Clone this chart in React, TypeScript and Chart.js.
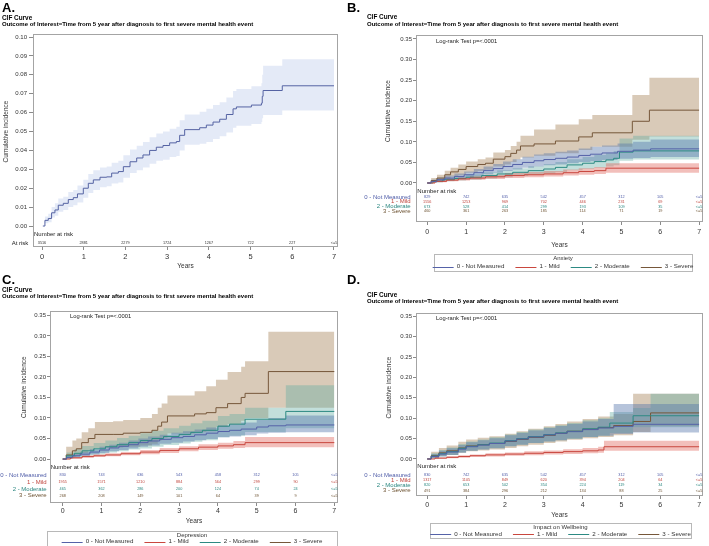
import { useEffect, useRef } from "react";
import { Chart, registerables } from "chart.js";

Chart.register(...registerables);

const FONT = "'Liberation Sans', Arial, sans-serif";

// ---------- axis ticks ----------
const YEAR_TICKS = [0, 1, 2, 3, 4, 5, 6, 7];
const A_Y_TICKS = [0, 0.01, 0.02, 0.03, 0.04, 0.05, 0.06, 0.07, 0.08, 0.09, 0.1];
const GROUP_Y_TICKS = [0, 0.05, 0.1, 0.15, 0.2, 0.25, 0.3, 0.35];

// ---------- labels ----------
const TITLE_1 = "CIF Curve";
const TITLE_2 = "Outcome of Interest=Time from 5 year after diagnosis to first severe mental health event";
const LOG_RANK = "Log-rank Test p=<.0001";
const GROUP_LABELS = ["0 - Not Measured", "1 - Mild", "2 - Moderate", "3 - Severe"];

// ---------- A: overall ----------
const A_TIME = [0.02, 0.07, 0.15, 0.23, 0.31, 0.39, 0.51, 0.63, 0.75, 0.85, 0.99, 1.11, 1.23, 1.39, 1.55, 1.67, 1.83, 1.95, 2.11, 2.27, 2.42, 2.58, 2.74, 2.9, 3.06, 3.22, 3.3, 3.42, 3.78, 3.94, 4.1, 4.26, 4.42, 4.58, 4.66, 5.02, 5.26, 5.28, 5.3, 5.76, 7.0];
const A_CIF = [0, 0.003, 0.004, 0.007, 0.0085, 0.011, 0.012, 0.014, 0.015, 0.017, 0.02, 0.0226, 0.0244, 0.0258, 0.026, 0.028, 0.0288, 0.0314, 0.034, 0.036, 0.0376, 0.04, 0.0417, 0.0426, 0.044, 0.0447, 0.048, 0.051, 0.052, 0.0534, 0.055, 0.0565, 0.059, 0.062, 0.063, 0.064, 0.065, 0.0686, 0.0717, 0.0742, 0.0742];
const A_LOWER = [0, 0.0015, 0.002, 0.0045, 0.0055, 0.0075, 0.0085, 0.01, 0.011, 0.0125, 0.015, 0.0175, 0.019, 0.0205, 0.021, 0.0225, 0.023, 0.0255, 0.028, 0.0295, 0.031, 0.033, 0.0345, 0.035, 0.0365, 0.037, 0.04, 0.043, 0.0435, 0.0445, 0.046, 0.0475, 0.0495, 0.052, 0.053, 0.054, 0.055, 0.057, 0.0588, 0.0611, 0.0611];
const A_UPPER = [0, 0.005, 0.0065, 0.01, 0.012, 0.0145, 0.0155, 0.018, 0.019, 0.0215, 0.0245, 0.0275, 0.0295, 0.031, 0.0315, 0.0335, 0.0345, 0.0375, 0.0405, 0.0425, 0.0445, 0.047, 0.049, 0.05, 0.0515, 0.0525, 0.056, 0.059, 0.0605, 0.062, 0.064, 0.0655, 0.068, 0.0715, 0.0725, 0.074, 0.0755, 0.08, 0.0848, 0.0883, 0.0883];
const A_AT_RISK = ["3516", "2881", "2279", "1724", "1267", "722", "227", "<=5"];

// ---------- B: anxiety ----------
const B_NM_T = [0, 0.1, 0.25, 0.45, 0.7, 0.95, 1.2, 1.45, 1.7, 1.95, 2.2, 2.45, 2.75, 3.0, 3.3, 3.6, 3.9, 4.2, 4.5, 4.9, 5.3, 5.75, 7.0];
const B_NM_CIF = [0, 0.004, 0.008, 0.012, 0.016, 0.02, 0.025, 0.03, 0.035, 0.04, 0.045, 0.05, 0.054, 0.057, 0.06, 0.063, 0.067, 0.07, 0.073, 0.077, 0.08, 0.083, 0.083];
const B_NM_LO = [0, 0.001, 0.004, 0.007, 0.01, 0.013, 0.017, 0.021, 0.025, 0.029, 0.033, 0.037, 0.04, 0.043, 0.045, 0.048, 0.051, 0.053, 0.056, 0.059, 0.061, 0.063, 0.063];
const B_NM_HI = [0, 0.008, 0.013, 0.018, 0.023, 0.028, 0.034, 0.04, 0.046, 0.052, 0.058, 0.064, 0.069, 0.072, 0.076, 0.079, 0.084, 0.088, 0.091, 0.096, 0.1, 0.106, 0.106];
const B_NM_RISK = ["829", "742", "635", "542", "457", "312", "105", "<=5"];

const B_MILD_T = [0, 0.2, 0.5, 0.8, 1.1, 1.5, 2.0, 2.5, 3.0, 3.5, 3.9, 4.3, 4.6, 7.0];
const B_MILD_CIF = [0, 0.004, 0.007, 0.01, 0.012, 0.015, 0.018, 0.02, 0.022, 0.025, 0.028, 0.03, 0.036, 0.036];
const B_MILD_LO = [0, 0.002, 0.004, 0.006, 0.008, 0.01, 0.012, 0.014, 0.016, 0.018, 0.02, 0.022, 0.025, 0.025];
const B_MILD_HI = [0, 0.007, 0.011, 0.014, 0.017, 0.02, 0.024, 0.027, 0.029, 0.033, 0.036, 0.039, 0.048, 0.048];
const B_MILD_RISK = ["1556", "1253", "969", "702", "446", "231", "69", "<=5"];

const B_MOD_T = [0, 0.15, 0.4, 0.7, 1.0, 1.4, 1.8, 2.2, 2.6, 3.0, 3.3, 3.6, 4.0, 4.3, 4.6, 4.8, 4.95, 5.3, 7.0];
const B_MOD_CIF = [0, 0.004, 0.008, 0.011, 0.014, 0.018, 0.022, 0.026, 0.03, 0.034, 0.038, 0.044, 0.048, 0.052, 0.056, 0.06, 0.075, 0.078, 0.078];
const B_MOD_LO = [0, 0.001, 0.004, 0.006, 0.008, 0.011, 0.014, 0.017, 0.02, 0.023, 0.026, 0.031, 0.034, 0.037, 0.04, 0.043, 0.054, 0.057, 0.057];
const B_MOD_HI = [0, 0.008, 0.013, 0.017, 0.021, 0.026, 0.031, 0.036, 0.041, 0.046, 0.051, 0.058, 0.063, 0.068, 0.072, 0.078, 0.108, 0.115, 0.115];
const B_MOD_RISK = ["673", "528", "414", "299", "193", "109", "35", "<=5"];

const B_SEV_T = [0, 0.1, 0.25, 0.45, 0.6, 0.8, 1.0, 1.3, 1.5, 1.7, 2.0, 2.15, 2.3, 2.4, 2.75, 3.3, 3.9, 4.25, 5.28, 5.72, 7.0];
const B_SEV_CIF = [0, 0.006, 0.012, 0.02, 0.027, 0.033, 0.04, 0.045, 0.048, 0.058, 0.064, 0.072, 0.08, 0.09, 0.095, 0.102, 0.112, 0.122, 0.15, 0.177, 0.177];
const B_SEV_LO = [0, 0.001, 0.005, 0.01, 0.015, 0.019, 0.025, 0.029, 0.032, 0.04, 0.045, 0.051, 0.057, 0.062, 0.066, 0.072, 0.08, 0.088, 0.105, 0.113, 0.113];
const B_SEV_HI = [0, 0.012, 0.02, 0.03, 0.037, 0.045, 0.052, 0.058, 0.062, 0.074, 0.08, 0.09, 0.1, 0.115, 0.13, 0.142, 0.155, 0.165, 0.214, 0.256, 0.256];
const B_SEV_RISK = ["460", "361", "263", "185", "114", "71", "19", "<=5"];

// ---------- C: depression ----------
const C_NM_T = [0, 0.1, 0.25, 0.45, 0.7, 0.95, 1.2, 1.45, 1.7, 1.95, 2.2, 2.5, 2.8, 3.1, 3.4, 3.7, 4.0, 4.3, 4.6, 5.0, 5.3, 5.75, 7.0];
const C_NM_CIF = [0, 0.004, 0.008, 0.012, 0.017, 0.022, 0.027, 0.031, 0.035, 0.04, 0.044, 0.048, 0.052, 0.055, 0.059, 0.063, 0.067, 0.07, 0.073, 0.078, 0.081, 0.083, 0.083];
const C_NM_LO = [0, 0.001, 0.004, 0.007, 0.011, 0.015, 0.019, 0.022, 0.026, 0.03, 0.033, 0.037, 0.04, 0.043, 0.046, 0.049, 0.053, 0.055, 0.058, 0.062, 0.064, 0.065, 0.065];
const C_NM_HI = [0, 0.008, 0.013, 0.018, 0.024, 0.03, 0.035, 0.04, 0.045, 0.05, 0.055, 0.059, 0.064, 0.068, 0.072, 0.077, 0.082, 0.085, 0.089, 0.095, 0.1, 0.106, 0.106];
const C_NM_RISK = ["830", "743", "636", "543", "458", "312", "105", "<=5"];

const C_MILD_T = [0, 0.2, 0.5, 0.8, 1.1, 1.5, 2.0, 2.5, 3.0, 3.5, 4.0, 4.4, 4.7, 7.0];
const C_MILD_CIF = [0, 0.003, 0.006, 0.008, 0.01, 0.013, 0.017, 0.021, 0.025, 0.029, 0.032, 0.035, 0.04, 0.04];
const C_MILD_LO = [0, 0.001, 0.003, 0.005, 0.007, 0.009, 0.012, 0.015, 0.019, 0.022, 0.025, 0.027, 0.029, 0.029];
const C_MILD_HI = [0, 0.005, 0.009, 0.012, 0.014, 0.017, 0.022, 0.027, 0.031, 0.036, 0.04, 0.044, 0.054, 0.054];
const C_MILD_RISK = ["1955", "1571", "1210", "884", "564", "299", "90", "<=5"];

const C_MOD_T = [0, 0.1, 0.3, 0.5, 0.8, 1.1, 1.4, 1.7, 2.0, 2.3, 2.6, 3.0, 3.3, 3.6, 4.0, 4.3, 4.7, 5.75, 7.0];
const C_MOD_CIF = [0, 0.008, 0.014, 0.02, 0.025, 0.03, 0.035, 0.04, 0.045, 0.05, 0.055, 0.06, 0.065, 0.07, 0.08, 0.085, 0.097, 0.116, 0.116];
const C_MOD_LO = [0, 0.002, 0.005, 0.009, 0.012, 0.016, 0.019, 0.023, 0.026, 0.03, 0.034, 0.038, 0.042, 0.046, 0.053, 0.057, 0.066, 0.075, 0.075];
const C_MOD_HI = [0, 0.016, 0.024, 0.032, 0.039, 0.045, 0.051, 0.057, 0.063, 0.069, 0.075, 0.081, 0.087, 0.093, 0.105, 0.11, 0.125, 0.18, 0.18];
const C_MOD_RISK = ["465", "362", "286", "200", "124", "74", "24", "<=5"];

const C_SEV_T = [0, 0.09, 0.25, 0.35, 0.49, 0.66, 0.83, 1.3, 1.56, 2.0, 2.3, 2.45, 2.55, 2.7, 3.4, 3.7, 3.95, 4.25, 4.6, 4.7, 5.3, 7.0];
const C_SEV_CIF = [0, 0.01, 0.02, 0.025, 0.04, 0.05, 0.06, 0.06, 0.063, 0.065, 0.07, 0.08, 0.09, 0.105, 0.11, 0.113, 0.125, 0.135, 0.15, 0.16, 0.213, 0.213];
const C_SEV_LO = [0, 0.001, 0.005, 0.008, 0.015, 0.02, 0.027, 0.028, 0.03, 0.033, 0.037, 0.045, 0.052, 0.062, 0.066, 0.068, 0.078, 0.085, 0.093, 0.1, 0.125, 0.125];
const C_SEV_HI = [0, 0.03, 0.045, 0.05, 0.065, 0.075, 0.09, 0.092, 0.095, 0.1, 0.11, 0.125, 0.135, 0.155, 0.165, 0.177, 0.193, 0.212, 0.225, 0.238, 0.31, 0.31];
const C_SEV_RISK = ["268", "208", "149", "101", "64", "39", "9", "<=5"];

// ---------- D: impact on wellbeing ----------
const D_NM_T = [0, 0.1, 0.3, 0.5, 0.8, 1.0, 1.3, 1.6, 2.0, 2.3, 2.6, 3.0, 3.3, 3.6, 4.0, 4.4, 4.8, 5.3, 7.0];
const D_NM_CIF = [0, 0.006, 0.012, 0.017, 0.024, 0.03, 0.034, 0.038, 0.044, 0.049, 0.054, 0.059, 0.063, 0.067, 0.072, 0.076, 0.08, 0.085, 0.085];
const D_NM_LO = [0, 0.002, 0.006, 0.01, 0.015, 0.02, 0.023, 0.026, 0.031, 0.035, 0.039, 0.043, 0.046, 0.05, 0.054, 0.057, 0.061, 0.065, 0.065];
const D_NM_HI = [0, 0.012, 0.02, 0.026, 0.034, 0.041, 0.046, 0.051, 0.058, 0.064, 0.07, 0.076, 0.081, 0.086, 0.092, 0.098, 0.135, 0.135, 0.135];
const D_NM_RISK = ["830", "742", "635", "542", "457", "312", "105", "<=5"];

const D_MILD_T = [0, 0.2, 0.5, 0.8, 1.1, 1.5, 2.0, 2.5, 3.0, 3.5, 4.0, 4.4, 4.55, 7.0];
const D_MILD_CIF = [0, 0.002, 0.004, 0.006, 0.008, 0.01, 0.012, 0.014, 0.016, 0.018, 0.02, 0.022, 0.03, 0.03];
const D_MILD_LO = [0, 0.001, 0.002, 0.003, 0.005, 0.006, 0.008, 0.009, 0.011, 0.012, 0.014, 0.015, 0.02, 0.02];
const D_MILD_HI = [0, 0.004, 0.007, 0.009, 0.011, 0.014, 0.016, 0.019, 0.021, 0.024, 0.027, 0.03, 0.045, 0.045];
const D_MILD_RISK = ["1317", "1105", "849", "620", "394", "204", "64", "<=5"];

const D_MOD_T = [0, 0.1, 0.3, 0.5, 0.8, 1.0, 1.3, 1.6, 2.0, 2.3, 2.6, 3.0, 3.3, 3.6, 4.0, 4.4, 4.7, 5.3, 5.75, 7.0];
const D_MOD_CIF = [0, 0.007, 0.013, 0.018, 0.026, 0.031, 0.035, 0.039, 0.045, 0.05, 0.055, 0.06, 0.064, 0.068, 0.074, 0.078, 0.088, 0.106, 0.106, 0.106];
const D_MOD_LO = [0, 0.002, 0.006, 0.01, 0.016, 0.02, 0.023, 0.026, 0.031, 0.035, 0.039, 0.043, 0.046, 0.049, 0.054, 0.057, 0.064, 0.078, 0.078, 0.078];
const D_MOD_HI = [0, 0.014, 0.022, 0.028, 0.037, 0.043, 0.048, 0.053, 0.06, 0.066, 0.072, 0.078, 0.083, 0.088, 0.095, 0.1, 0.115, 0.125, 0.16, 0.16];
const D_MOD_RISK = ["820", "653", "502", "354", "224", "119", "34", "<=5"];

const D_SEV_T = [0, 0.1, 0.3, 0.5, 0.8, 1.0, 1.3, 1.6, 2.0, 2.3, 2.6, 3.0, 3.3, 3.6, 4.0, 4.4, 4.8, 5.3, 5.75, 7.0];
const D_SEV_CIF = [0, 0.008, 0.015, 0.02, 0.027, 0.032, 0.035, 0.038, 0.043, 0.048, 0.053, 0.058, 0.063, 0.068, 0.073, 0.077, 0.082, 0.092, 0.113, 0.113];
const D_SEV_LO = [0, 0.002, 0.007, 0.01, 0.015, 0.019, 0.021, 0.023, 0.027, 0.031, 0.035, 0.039, 0.043, 0.047, 0.051, 0.054, 0.058, 0.066, 0.08, 0.08];
const D_SEV_HI = [0, 0.018, 0.027, 0.033, 0.042, 0.048, 0.052, 0.056, 0.062, 0.068, 0.074, 0.08, 0.086, 0.092, 0.098, 0.104, 0.11, 0.16, 0.16, 0.16];
const D_SEV_RISK = ["491", "384", "296", "212", "134", "88", "25", "<=5"];

// ---------- styles ----------
const GROUP_LINE = ["#5562a8", "#c9473e", "#2c8a83", "#76573a"];
const GROUP_BAND = ["rgba(80,115,170,0.42)", "rgba(222,95,85,0.40)", "rgba(95,170,160,0.38)", "rgba(165,128,85,0.42)"];
const GROUP_TEXT = ["#4f5ca8", "#c0463e", "#2b8780", "#6e5434"];

interface Series {
  label: string;
  time: number[];
  cif: number[];
  lower: number[];
  upper: number[];
  risk: string[];
  line: string;
  band: string;
  text: string;
}

interface Box { left: number; top: number; right: number; bottom: number }

interface PanelSpec {
  letter: string;
  canvas: { left: number; top: number; width: number; height: number };
  area: Box;
  xAxisHeight: number;
  xRange: [number, number];
  yRange: [number, number];
  yTicks: number[];
  xTickLen: number;
  xTickPad: number;
  xTickFont: number;
  yTickLen: number;
  yTickPad: number;
  yTickFont: number;
  yearsPad: number;
  yTitleX: number;
  letterPos: [number, number];
  titleX: number;
  titleY: [number, number];
  riskHeader: [number, number];
  riskLabelRight: number;
  riskRows: number[];
  riskRowLabels: string[];
  series: Series[];
  logRank?: [number, number];
  legend?: { title: string; box: Box; titleY: number; entryY: number };
}

function group(i: number, time: number[], cif: number[], lower: number[], upper: number[], risk: string[]): Series {
  return { label: GROUP_LABELS[i], time, cif, lower, upper, risk, line: GROUP_LINE[i], band: GROUP_BAND[i], text: GROUP_TEXT[i] };
}

const PANELS: PanelSpec[] = [
  {
    letter: "A.",
    canvas: { left: 0, top: 0, width: 346, height: 273 },
    area: { left: 33, top: 34, right: 338, bottom: 247 },
    xAxisHeight: 26,
    xRange: [-0.216, 7.096],
    yRange: [-0.0111, 0.1016],
    yTicks: A_Y_TICKS,
    xTickLen: 3, xTickPad: 2.2, xTickFont: 7.5,
    yTickLen: 4, yTickPad: 2, yTickFont: 6,
    yearsPad: 2.6,
    yTitleX: 6,
    letterPos: [2, 12],
    titleX: 2,
    titleY: [20, 25.5],
    riskHeader: [34, 234.5],
    riskLabelRight: 28.3,
    riskRows: [243],
    riskRowLabels: ["At risk"],
    series: [
      { label: "", time: A_TIME, cif: A_CIF, lower: A_LOWER, upper: A_UPPER, risk: A_AT_RISK, line: "#5563a3", band: "rgba(120,150,215,0.2)", text: "#333" },
    ],
  },
  {
    letter: "B.",
    canvas: { left: 346, top: 0, width: 363, height: 273 },
    area: { left: 416, top: 35, right: 703, bottom: 222 },
    xAxisHeight: 30,
    xRange: [-0.29, 7.1],
    yRange: [-0.0948, 0.3597],
    yTicks: GROUP_Y_TICKS,
    xTickLen: 3, xTickPad: 3.3, xTickFont: 7,
    yTickLen: 3, yTickPad: 1, yTickFont: 6,
    yearsPad: 2.6,
    yTitleX: 388,
    letterPos: [347, 12],
    titleX: 367,
    titleY: [19, 25.5],
    riskHeader: [417.3, 191.7],
    riskLabelRight: 410.7,
    riskRows: [197, 201.8, 206.6, 211.4],
    riskRowLabels: GROUP_LABELS,
    series: [
      group(0, B_NM_T, B_NM_CIF, B_NM_LO, B_NM_HI, B_NM_RISK),
      group(1, B_MILD_T, B_MILD_CIF, B_MILD_LO, B_MILD_HI, B_MILD_RISK),
      group(2, B_MOD_T, B_MOD_CIF, B_MOD_LO, B_MOD_HI, B_MOD_RISK),
      group(3, B_SEV_T, B_SEV_CIF, B_SEV_LO, B_SEV_HI, B_SEV_RISK),
    ],
    logRank: [436, 41.7],
    legend: { title: "Anxiety", box: { left: 434, top: 254, right: 692, bottom: 271 }, titleY: 258, entryY: 266.5 },
  },
  {
    letter: "C.",
    canvas: { left: 0, top: 273, width: 346, height: 273 },
    area: { left: 50, top: 311, right: 338, bottom: 503 },
    xAxisHeight: 30,
    xRange: [-0.327, 7.095],
    yRange: [-0.107, 0.3605],
    yTicks: GROUP_Y_TICKS,
    xTickLen: 3, xTickPad: 0.5, xTickFont: 7,
    yTickLen: 3, yTickPad: 1, yTickFont: 6,
    yearsPad: 7.6,
    yTitleX: 24.5,
    letterPos: [2, 284],
    titleX: 2,
    titleY: [292.3, 298.3],
    riskHeader: [50.7, 467.3],
    riskLabelRight: 46.7,
    riskRows: [475, 482.2, 489, 495.8],
    riskRowLabels: GROUP_LABELS,
    series: [
      group(0, C_NM_T, C_NM_CIF, C_NM_LO, C_NM_HI, C_NM_RISK),
      group(1, C_MILD_T, C_MILD_CIF, C_MILD_LO, C_MILD_HI, C_MILD_RISK),
      group(2, C_MOD_T, C_MOD_CIF, C_MOD_LO, C_MOD_HI, C_MOD_RISK),
      group(3, C_SEV_T, C_SEV_CIF, C_SEV_LO, C_SEV_HI, C_SEV_RISK),
    ],
    logRank: [70, 316.2],
    legend: { title: "Depression", box: { left: 47, top: 530.5, right: 337, bottom: 545.5 }, titleY: 535.5, entryY: 541.7 },
  },
  {
    letter: "D.",
    canvas: { left: 346, top: 273, width: 363, height: 273 },
    area: { left: 416, top: 313, right: 703, bottom: 496 },
    xAxisHeight: 30,
    xRange: [-0.29, 7.1],
    yRange: [-0.0908, 0.358],
    yTicks: GROUP_Y_TICKS,
    xTickLen: 3, xTickPad: 1.5, xTickFont: 7,
    yTickLen: 3, yTickPad: 1, yTickFont: 6,
    yearsPad: 6.6,
    yTitleX: 389,
    letterPos: [347, 284],
    titleX: 367,
    titleY: [297, 303],
    riskHeader: [417.3, 466.7],
    riskLabelRight: 410.7,
    riskRows: [475, 480.2, 485.4, 490.6],
    riskRowLabels: GROUP_LABELS,
    series: [
      group(0, D_NM_T, D_NM_CIF, D_NM_LO, D_NM_HI, D_NM_RISK),
      group(1, D_MILD_T, D_MILD_CIF, D_MILD_LO, D_MILD_HI, D_MILD_RISK),
      group(2, D_MOD_T, D_MOD_CIF, D_MOD_LO, D_MOD_HI, D_MOD_RISK),
      group(3, D_SEV_T, D_SEV_CIF, D_SEV_LO, D_SEV_HI, D_SEV_RISK),
    ],
    logRank: [436, 318],
    legend: { title: "Impact on Wellbeing", box: { left: 430, top: 523, right: 691, bottom: 538 }, titleY: 527, entryY: 534.3 },
  },
];

const points = (t: number[], v: number[]) => t.map((x, i) => ({ x, y: v[i] }));

function decorations(spec: PanelSpec) {
  const ox = spec.canvas.left;
  const oy = spec.canvas.top;
  const px = (x: number) => x - ox;
  const py = (y: number) => y - oy;
  return {
    id: "cifDecorations",
    afterDraw(chart: any) {
      const ctx: CanvasRenderingContext2D = chart.ctx;
      const ca = chart.chartArea;
      const xs = chart.scales.x;
      const ys = chart.scales.y;
      ctx.save();

      // plot frame
      ctx.strokeStyle = "#a4a4a4";
      ctx.lineWidth = 1;
      ctx.strokeRect(Math.round(ca.left) + 0.5, Math.round(ca.top) + 0.5, Math.round(ca.right - ca.left) - 1, Math.round(ca.bottom - ca.top) - 1);

      // panel letter and titles
      ctx.fillStyle = "#000";
      ctx.textAlign = "left";
      ctx.textBaseline = "alphabetic";
      ctx.font = `bold 13px ${FONT}`;
      ctx.fillText(spec.letter, px(spec.letterPos[0]), py(spec.letterPos[1]));
      ctx.font = `bold 6.4px ${FONT}`;
      ctx.fillText(TITLE_1, px(spec.titleX), py(spec.titleY[0]));
      ctx.font = `bold 6px ${FONT}`;
      ctx.fillText(TITLE_2, px(spec.titleX), py(spec.titleY[1]));

      // y-axis title, centred on the tick range
      const yMid = (ys.getPixelForValue(0) + ys.getPixelForValue(spec.yTicks[spec.yTicks.length - 1])) / 2;
      ctx.save();
      ctx.translate(px(spec.yTitleX), yMid);
      ctx.rotate(-Math.PI / 2);
      ctx.textAlign = "center";
      ctx.textBaseline = "middle";
      ctx.fillStyle = "#333";
      ctx.font = `6.5px ${FONT}`;
      ctx.fillText("Cumulative incidence", 0, 0);
      ctx.restore();

      // log-rank annotation
      if (spec.logRank) {
        ctx.fillStyle = "#222";
        ctx.textBaseline = "middle";
        ctx.font = `5.8px ${FONT}`;
        ctx.fillText(LOG_RANK, px(spec.logRank[0]), py(spec.logRank[1]));
      }

      // number-at-risk table
      ctx.textBaseline = "middle";
      ctx.fillStyle = "#222";
      ctx.font = `6px ${FONT}`;
      ctx.textAlign = "left";
      ctx.fillText("Number at risk", px(spec.riskHeader[0]), py(spec.riskHeader[1]));
      spec.series.forEach((s, gi) => {
        const y = py(spec.riskRows[gi]);
        ctx.textAlign = "right";
        ctx.font = `6px ${FONT}`;
        ctx.fillStyle = spec.series.length > 1 ? s.text : "#222";
        ctx.fillText(spec.riskRowLabels[gi], px(spec.riskLabelRight), y);
        ctx.textAlign = "center";
        ctx.font = `3.8px ${FONT}`;
        ctx.fillStyle = s.text;
        s.risk.forEach((v, i) => ctx.fillText(v, xs.getPixelForValue(YEAR_TICKS[i]), y));
      });

      // legend
      const lg = spec.legend;
      if (lg) {
        ctx.strokeStyle = "#b8b8b8";
        ctx.lineWidth = 1;
        ctx.strokeRect(Math.round(px(lg.box.left)) + 0.5, Math.round(py(lg.box.top)) + 0.5, Math.round(lg.box.right - lg.box.left), Math.round(lg.box.bottom - lg.box.top));
        const cx = px((lg.box.left + lg.box.right) / 2);
        ctx.fillStyle = "#333";
        ctx.textAlign = "center";
        ctx.textBaseline = "middle";
        ctx.font = `6px ${FONT}`;
        ctx.fillText(lg.title, cx, py(lg.titleY));
        ctx.font = `6.2px ${FONT}`;
        const SAMPLE = 21;
        const GAP = 3;
        const SEP = 11;
        const widths = spec.series.map((s) => ctx.measureText(s.label).width);
        const total = widths.reduce((a, b) => a + b, 0) + spec.series.length * (SAMPLE + GAP) + (spec.series.length - 1) * SEP;
        let x = cx - total / 2;
        const ey = py(lg.entryY);
        spec.series.forEach((s, i) => {
          ctx.strokeStyle = s.line;
          ctx.lineWidth = 1;
          ctx.beginPath();
          ctx.moveTo(x, Math.round(ey) + 0.5);
          ctx.lineTo(x + SAMPLE, Math.round(ey) + 0.5);
          ctx.stroke();
          ctx.fillStyle = "#333";
          ctx.textAlign = "left";
          ctx.fillText(s.label, x + SAMPLE + GAP, ey);
          x += SAMPLE + GAP + widths[i] + SEP;
        });
      }
      ctx.restore();
    },
  };
}

function buildConfig(spec: PanelSpec): any {
  const datasets: any[] = [];
  spec.series.forEach((s) => {
    datasets.push({
      data: points(s.time, s.lower),
      stepped: true,
      borderColor: "rgba(0,0,0,0)",
      borderWidth: 0,
      pointRadius: 0,
      fill: false,
      order: 2,
    });
    datasets.push({
      data: points(s.time, s.upper),
      stepped: true,
      borderColor: "rgba(0,0,0,0)",
      borderWidth: 0,
      pointRadius: 0,
      fill: "-1",
      backgroundColor: s.band,
      order: 2,
    });
  });
  spec.series.forEach((s) => {
    datasets.push({
      label: s.label,
      data: points(s.time, s.cif),
      stepped: true,
      borderColor: s.line,
      borderWidth: 1,
      pointRadius: 0,
      fill: false,
      order: 1,
    });
  });

  const { canvas, area } = spec;
  const yAxisWidth = area.left - canvas.left;
  const padRight = canvas.left + canvas.width - area.right;
  const padTop = area.top - canvas.top;
  const padBottom = canvas.top + canvas.height - area.bottom - spec.xAxisHeight;

  return {
    type: "line",
    data: { datasets },
    plugins: [decorations(spec)],
    options: {
      responsive: false,
      animation: false,
      events: [],
      layout: { padding: { left: 0, right: padRight, top: padTop, bottom: padBottom } },
      plugins: {
        legend: { display: false },
        tooltip: { enabled: false },
        filler: { propagate: false, drawTime: "beforeDatasetsDraw" },
      },
      scales: {
        x: {
          type: "linear",
          min: spec.xRange[0],
          max: spec.xRange[1],
          afterFit: (s: any) => { s.height = spec.xAxisHeight; },
          afterBuildTicks: (s: any) => { s.ticks = YEAR_TICKS.map((value) => ({ value })); },
          grid: { drawOnChartArea: false, drawTicks: true, tickLength: spec.xTickLen, color: "#8a8a8a" },
          border: { display: false },
          ticks: {
            autoSkip: false,
            maxRotation: 0,
            padding: spec.xTickPad,
            color: "#333",
            font: { family: FONT, size: spec.xTickFont },
            callback: (v: any) => String(v),
          },
          title: {
            display: true,
            text: "Years",
            color: "#333",
            font: { family: FONT, size: 6.5 },
            padding: { top: 0, bottom: spec.yearsPad },
          },
        },
        y: {
          type: "linear",
          min: spec.yRange[0],
          max: spec.yRange[1],
          afterFit: (s: any) => { s.width = yAxisWidth; },
          afterBuildTicks: (s: any) => { s.ticks = spec.yTicks.map((value) => ({ value })); },
          grid: { drawOnChartArea: false, drawTicks: true, tickLength: spec.yTickLen, color: "#8a8a8a" },
          border: { display: false },
          ticks: {
            autoSkip: false,
            padding: spec.yTickPad,
            color: "#333",
            font: { family: FONT, size: spec.yTickFont },
            callback: (v: any) => Number(v).toFixed(2),
          },
        },
      },
    },
  };
}

function Panel({ spec }: { spec: PanelSpec }) {
  const ref = useRef<HTMLCanvasElement>(null);
  useEffect(() => {
    const el = ref.current;
    if (!el) return;
    const chart = new Chart(el, buildConfig(spec));
    return () => chart.destroy();
  }, [spec]);
  const { left, top, width, height } = spec.canvas;
  return (
    <canvas
      ref={ref}
      width={width}
      height={height}
      style={{ position: "absolute", left, top, width, height, display: "block" }}
    />
  );
}

export default function App() {
  return (
    <div style={{ position: "absolute", left: 0, top: 0, width: 709, height: 546, background: "#fff", overflow: "hidden" }}>
      {PANELS.map((p) => (
        <Panel key={p.letter} spec={p} />
      ))}
    </div>
  );
}
